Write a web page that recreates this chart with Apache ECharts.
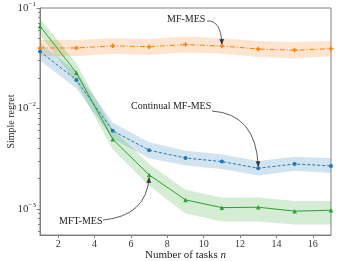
<!DOCTYPE html>
<html><head><meta charset="utf-8">
<script src="https://cdn.jsdelivr.net/npm/echarts@6/dist/echarts.min.js"></script>
<style>html,body{margin:0;padding:0;background:#fff}#c{width:341px;height:261px}</style>
</head><body><div id="c"></div>
<script>
const tasks = [1, 3, 5, 7, 9, 11, 13, 15, 17];
const mfMean  = [0.040, 0.040, 0.042, 0.0412, 0.0432, 0.0419, 0.039, 0.038, 0.0394];
const mfLow   = [0.033, 0.033, 0.035, 0.034, 0.036, 0.035, 0.0325, 0.0315, 0.033];
const mfHigh  = [0.048, 0.048, 0.050, 0.049, 0.052, 0.050, 0.047, 0.046, 0.047];
const cMean   = [0.037, 0.0192, 0.0060, 0.00384, 0.00321, 0.00296, 0.00254, 0.0028, 0.00268];
const cLow    = [0.030, 0.0158, 0.0050, 0.0032, 0.0027, 0.0025, 0.00215, 0.0024, 0.00228];
const cHigh   = [0.045, 0.0232, 0.0072, 0.0046, 0.0038, 0.0035, 0.0030, 0.0033, 0.0032];
const tMean   = [0.066, 0.0227, 0.00493, 0.00218, 0.00123, 0.00103, 0.00104, 0.00095, 0.00097];
const tLow    = [0.054, 0.0180, 0.0039, 0.00170, 0.00090, 0.00075, 0.00075, 0.0007, 0.0007];
const tHigh   = [0.078, 0.028, 0.0062, 0.0028, 0.00155, 0.0013, 0.0013, 0.0012, 0.0012];
const xTicks  = [2, 4, 6, 8, 10, 12, 14, 16];
const yMajor  = [0.001, 0.01, 0.1];
const yMinor  = [0.0006, 0.0007, 0.0008, 0.0009, 0.002, 0.003, 0.004, 0.005, 0.006, 0.007, 0.008, 0.009,
                 0.02, 0.03, 0.04, 0.05, 0.06, 0.07, 0.08, 0.09];
const yMin = 0.00055, yMax = 0.1;

const FONT = '"Liberation Serif", "DejaVu Serif", serif';
const AX = '#808080';
const C_OR = '#ff7f0e', C_BL = '#1f77b4', C_GR = '#2ca02c';

function pairs(xs, ys) { return xs.map((x, i) => [x, ys[i]]); }

function band(lo, hi, color) {
  const data = tasks.map((x, i) => [x, lo[i], hi[i]]);
  return {
    type: 'custom', data: data, z: 1, silent: true, clip: true,
    encode: { x: 0, y: [1, 2] },
    renderItem: function (params, api) {
      if (params.dataIndex !== 0) return null;
      const top = data.map(d => api.coord([d[0], d[2]]));
      const bot = data.map(d => api.coord([d[0], d[1]])).reverse();
      return { type: 'polygon', shape: { points: top.concat(bot) },
               style: { fill: color, opacity: 0.2 } };
    }
  };
}

const plusPath = 'path://M2,0H4V2H6V4H4V6H2V4H0V2H2Z';

const chart = echarts.init(document.getElementById('c'), null, { renderer: 'canvas' });
const option = {
  animation: false,
  grid: { left: 40, right: 10, top: 8, bottom: 26, show: true, borderColor: AX, borderWidth: 1,
          backgroundColor: 'transparent', containLabel: false, outerBoundsMode: 'none' },
  xAxis: {
    type: 'value', min: 1, max: 17,
    name: 'Number of tasks {i|n}', nameLocation: 'middle', nameGap: 15, nameMoveOverlap: false,
    nameTextStyle: { fontFamily: FONT, fontSize: 11, color: '#222', rich: { i: { fontFamily: FONT, fontStyle: 'italic', fontSize: 11, color: '#222' } } },
    axisLine: { lineStyle: { color: AX, width: 1 } },
    axisTick: { customValues: xTicks, length: 3, lineStyle: { color: AX } },
    axisLabel: { customValues: xTicks, fontFamily: FONT, fontSize: 10, color: '#333', margin: 4 },
    splitLine: { show: false }
  },
  yAxis: [{
    type: 'log', min: yMin, max: yMax,
    name: 'Simple regret', nameLocation: 'middle', nameGap: 24, nameMoveOverlap: false,
    nameTextStyle: { fontFamily: FONT, fontSize: 10, color: '#222' },
    axisLine: { lineStyle: { color: AX, width: 1 } },
    axisTick: { customValues: yMajor, length: 3.5, lineStyle: { color: AX } },
    axisLabel: {
      customValues: yMajor, margin: 4,
      formatter: function (v) { const e = Math.round(Math.log10(v)); return '{a|10}{b|−' + Math.abs(e) + '}'; },
      rich: {
        a: { fontFamily: FONT, fontSize: 11, color: '#333' },
        b: { fontFamily: FONT, fontSize: 7, color: '#333', padding: [0, 0, 8, 0] }
      }
    },
    splitLine: { show: false }
  }, {
    type: 'log', min: yMin, max: yMax, position: 'left',
    axisLine: { show: false },
    axisTick: { customValues: yMinor, length: 2, lineStyle: { color: AX } },
    axisLabel: { show: false },
    splitLine: { show: false }
  }],
  series: [
    band(mfLow, mfHigh, C_OR),
    band(cLow, cHigh, C_BL),
    band(tLow, tHigh, C_GR),
    { type: 'line', name: 'MF-MES', data: pairs(tasks, mfMean), symbol: plusPath, symbolSize: 4.5,
      itemStyle: { color: C_OR }, lineStyle: { color: C_OR, width: 1, type: [5, 2, 1, 2] }, z: 3 },
    { type: 'line', name: 'Continual MF-MES', data: pairs(tasks, cMean), symbol: 'circle', symbolSize: 4,
      itemStyle: { color: C_BL }, lineStyle: { color: C_BL, width: 1, type: [3, 2] }, z: 3 },
    { type: 'line', name: 'MFT-MES', data: pairs(tasks, tMean), symbol: 'triangle', symbolSize: 4.5,
      itemStyle: { color: C_GR }, lineStyle: { color: C_GR, width: 1 }, z: 4 }
  ]
};
chart.setOption(option);

function P(x, y) { return chart.convertToPixel({ xAxisIndex: 0, yAxisIndex: 0 }, [x, y]); }
function arrow(start, ctrl, end) {
  const dx = end[0] - ctrl[0], dy = end[1] - ctrl[1];
  const L = Math.hypot(dx, dy), ux = dx / L, uy = dy / L;
  const a = 0.4, len = 5;
  const c = Math.cos(a), s = Math.sin(a);
  const l1 = [end[0] - len * (ux * c - uy * s), end[1] - len * (uy * c + ux * s)];
  const l2 = [end[0] - len * (ux * c + uy * s), end[1] - len * (uy * c - ux * s)];
  return [
    { type: 'bezierCurve', shape: { x1: start[0], y1: start[1], x2: end[0], y2: end[1], cpx1: ctrl[0], cpy1: ctrl[1] },
      style: { stroke: '#333', lineWidth: 0.8, fill: null }, z: 10 },
    { type: 'polygon', shape: { points: [l1, end, l2] }, style: { stroke: '#333', lineWidth: 0.6, fill: '#333' }, z: 10 }
  ];
}
function label(text, x, y) {
  return { type: 'text', x: x, y: y, style: { text: text, font: '10px ' + FONT, fill: '#222', textVerticalAlign: 'middle', textAlign: 'left' }, z: 10 };
}
const pMF = P(11, mfMean[5]), pC = P(13, cMean[6]), pT = P(7, tMean[3]);
const eMF = [pMF[0], pMF[1] - 2], eC = [pC[0], pC[1] - 2], eT = [pT[0], pT[1] + 3];
chart.setOption({
  graphic: [].concat(
    [label('MF-MES', 167, 19)],
    arrow([207, 21], [221, 20], eMF),
    [label('Continual MF-MES', 131, 106)],
    arrow([212, 111], [256, 114], eC),
    [label('MFT-MES', 59, 221)],
    arrow([103, 220], [146, 216], eT)
  )
});
</script></body></html>
